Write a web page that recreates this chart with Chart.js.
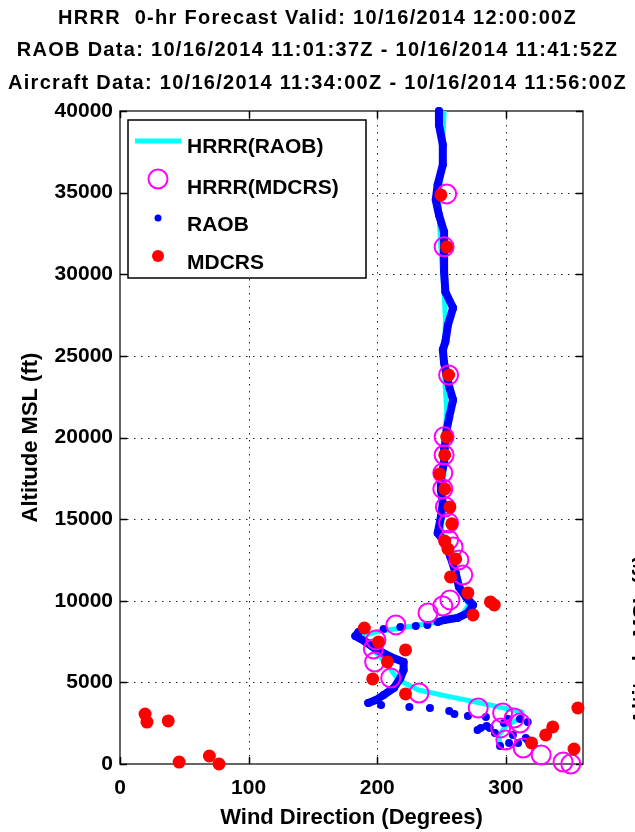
<!DOCTYPE html>
<html>
<head>
<meta charset="utf-8">
<script src="https://cdn.jsdelivr.net/npm/chart.js@4.4.0/dist/chart.umd.min.js"></script>
<style>
    html, body { margin: 0; padding: 0; background: #fff; }
    #wrap { width: 635px; height: 832px; position: relative; overflow: hidden; }
</style>
</head>
<body>
<div id="wrap"><canvas id="windChart" width="635" height="832"></canvas></div>
<script>
// Titles and axis text
const titleLines = [
    'HRRR  0-hr Forecast Valid: 10/16/2014 12:00:00Z',
    'RAOB Data: 10/16/2014 11:01:37Z - 10/16/2014 11:41:52Z',
    'Aircraft Data: 10/16/2014 11:34:00Z - 10/16/2014 11:56:00Z'
];
const xTitle = 'Wind Direction (Degrees)';
const yTitle = 'Altitude MSL (ft)';
const legendLabels = ['HRRR(RAOB)', 'HRRR(MDCRS)', 'RAOB', 'MDCRS'];

const xTicks = [0, 100, 200, 300];
const yTicks = [0, 5000, 10000, 15000, 20000, 25000, 30000, 35000, 40000];

// HRRR interpolated to the RAOB profile
const hrrrRaobDir = [252, 251, 250, 248, 248.5, 250, 252, 253, 252.5, 252.5, 254, 252.5, 252, 251, 250, 254, 259, 263.5, 267.5, 271, 266.5, 255, 237.5, 218, 199, 188.5, 193, 201, 209, 216.5, 232, 257, 280.5, 312, 312.5, 300, 294, 296];
const hrrrRaobAlt = [40000, 38230, 36390, 34560, 33020, 30880, 29040, 27200, 25370, 23530, 21690, 19850, 18010, 16180, 14340, 13110, 12190, 11270, 10360, 9740, 9190, 8820, 8580, 8330, 8090, 7840, 7290, 6680, 5940, 5150, 4530, 4110, 3740, 3190, 2880, 2330, 1720, 1160];

// RAOB observations (upper profile, sparse middle, lower profile, scattered low levels)
const raobUpperDir = [248, 248, 251, 251, 247, 245.5, 248, 252, 252, 252, 253, 259, 255, 253, 251, 252, 256, 259, 256, 254, 252.5, 252, 249.5, 249.5, 251, 249.5, 247, 253, 257, 261, 263.5, 269, 274.5, 270.5, 262.5, 252, 247];
const raobUpperAlt = [40000, 39150, 37930, 36700, 35480, 34560, 33640, 32600, 31370, 30150, 28920, 27940, 26900, 25860, 25370, 24570, 23100, 22300, 21260, 20460, 19420, 18440, 17580, 16790, 15990, 15130, 14150, 13540, 12680, 11700, 10850, 10230, 9740, 9250, 8950, 8820, 8700];
const raobMidDir = [239, 230, 218, 205];
const raobMidAlt = [8520, 8460, 8390, 8270];
const raobLowerDir = [185.5, 183, 191, 200, 210.5, 220.5, 220.5, 218, 213, 205, 199, 193];
const raobLowerAlt = [8090, 7840, 7480, 6990, 6560, 6250, 5760, 5270, 4660, 4230, 3920, 3740];
const raobLowDir = [203, 225, 241, 256, 260, 270.5, 284.5, 278, 285, 291.5, 298.5, 301.5, 311, 317, 305.5, 302.5, 295.5, 309.5, 315.5, 280.5, 287.5, 317];
const raobLowAlt = [3620, 3490, 3430, 3250, 3060, 2940, 2880, 2080, 2330, 1900, 2510, 2760, 2760, 2570, 1780, 1290, 1100, 1290, 1590, 2210, 2210, 1470];

// HRRR interpolated to the aircraft reports
const hrrrMdcrsDir = [254, 252, 255.5, 252, 252, 251, 251, 253, 255.5, 255.5, 259, 263.5, 266.5, 256.5, 251, 239.5, 214.5, 199, 197, 198, 210.5, 232.5, 278.5, 297.5, 306.5, 311, 296, 300, 313.5, 327.5, 344.5, 350.5];
const hrrrMdcrsAlt = [34920, 31680, 23830, 20040, 18930, 17830, 16850, 15750, 14770, 13720, 13300, 12500, 11580, 10050, 9680, 9250, 8520, 7600, 7050, 6250, 5270, 4350, 3430, 3130, 2820, 2510, 2210, 1470, 980, 550, 120, 0];

// Aircraft (MDCRS) reports
const mdcrsDir = [249.5, 254, 255.5, 254, 252.5, 248.5, 252.5, 256.5, 258, 252.5, 255, 261, 257, 270.5, 288, 291, 274.5, 190, 201, 222, 208, 196.5, 222, 356, 336.5, 331, 320, 353, 19.5, 21, 37.5, 46, 69.5, 77];
const mdcrsAlt = [34860, 31680, 23830, 20040, 18930, 17770, 16850, 15750, 14710, 13660, 13170, 12560, 11460, 10480, 9930, 9740, 9130, 8330, 7480, 6990, 6250, 5210, 4290, 3430, 2270, 1780, 1290, 920, 3060, 2570, 2640, 120, 490, 0];

const CYAN = '#00ffff', MAGENTA = '#ff00ff', BLUE = '#0000ff', RED = '#ff0000';
const FONT = "'Liberation Sans', Arial, sans-serif";

function pts(dirs, alts) {
    return dirs.map((d, i) => ({ x: d, y: alts[i] }));
}

function raobLine(dirs, alts) {
    return {
        label: 'RAOB',
        data: pts(dirs, alts),
        showLine: true,
        borderColor: BLUE,
        borderWidth: 8,
        borderJoinStyle: 'round',
        borderCapStyle: 'round',
        pointRadius: 4,
        pointBackgroundColor: BLUE,
        pointBorderWidth: 0,
        clip: false,
        order: 3
    };
}

function raobDots(dirs, alts) {
    return {
        label: 'RAOB',
        data: pts(dirs, alts),
        showLine: false,
        pointRadius: 4,
        pointBackgroundColor: BLUE,
        pointBorderWidth: 0,
        clip: false,
        order: 3
    };
}

// Grid, box, inward ticks, legend and text
const frame = {
    id: 'frame',
    beforeDatasetsDraw(chart) {
        const { ctx, chartArea: a, scales: { x, y } } = chart;
        ctx.save();
        ctx.strokeStyle = '#222';
        ctx.lineWidth = 1;
        ctx.setLineDash([1.5, 5.5]);
        xTicks.forEach(v => {
            if (v <= 0) return;
            const px = Math.round(x.getPixelForValue(v)) + 0.5;
            ctx.beginPath(); ctx.moveTo(px, a.top); ctx.lineTo(px, a.bottom); ctx.stroke();
        });
        yTicks.forEach(v => {
            if (v <= 0 || v >= 40000) return;
            const py = Math.round(y.getPixelForValue(v)) + 0.5;
            ctx.beginPath(); ctx.moveTo(a.left, py); ctx.lineTo(a.right, py); ctx.stroke();
        });
        ctx.setLineDash([]);

        ctx.strokeStyle = '#333';
        ctx.lineWidth = 1.5;
        ctx.strokeRect(a.left, a.top, a.right - a.left, a.bottom - a.top);

        // MATLAB style ticks pointing inwards on all four sides
        ctx.strokeStyle = '#000';
        const tl = 7;
        xTicks.forEach(v => {
            const px = Math.round(x.getPixelForValue(v)) + 0.5;
            ctx.beginPath();
            ctx.moveTo(px, a.bottom); ctx.lineTo(px, a.bottom - tl);
            ctx.moveTo(px, a.top); ctx.lineTo(px, a.top + tl);
            ctx.stroke();
        });
        yTicks.forEach(v => {
            const py = Math.round(y.getPixelForValue(v)) + 0.5;
            ctx.beginPath();
            ctx.moveTo(a.left, py); ctx.lineTo(a.left + tl, py);
            ctx.moveTo(a.right, py); ctx.lineTo(a.right - tl, py);
            ctx.stroke();
        });
        ctx.restore();
    },
    afterDraw(chart) {
        const { ctx, chartArea: a } = chart;
        ctx.save();

        // Titles
        ctx.fillStyle = '#000';
        ctx.textAlign = 'center';
        ctx.textBaseline = 'middle';
        ctx.font = `bold 20px ${FONT}`;
        ctx.letterSpacing = '1.3px';
        [18, 50, 83].forEach((ty, i) => ctx.fillText(titleLines[i], 317.5, ty));
        ctx.letterSpacing = '0px';

        // Axis titles
        ctx.font = `bold 22px ${FONT}`;
        ctx.fillText(xTitle, (a.left + a.right) / 2, 818);
        ctx.save();
        ctx.translate(31, (a.top + a.bottom) / 2);
        ctx.rotate(-Math.PI / 2);
        ctx.fillText(yTitle, 0, 0);
        ctx.restore();
        // label of the neighbouring panel, cut by the figure edge
        ctx.save();
        ctx.translate(642, 640);
        ctx.rotate(-Math.PI / 2);
        ctx.fillText(yTitle, 0, 0);
        ctx.restore();

        // Legend
        const lx = 128, ly = 120, lw = 238, lh = 158;
        ctx.fillStyle = '#fff';
        ctx.fillRect(lx, ly, lw, lh);
        ctx.strokeStyle = '#000';
        ctx.lineWidth = 1.5;
        ctx.strokeRect(lx, ly, lw, lh);

        const symX = 158;
        const symY = [141, 179, 218, 256];
        const textY = [153, 194, 231, 269];

        ctx.strokeStyle = CYAN;
        ctx.lineWidth = 5;
        ctx.beginPath(); ctx.moveTo(135, symY[0]); ctx.lineTo(181, symY[0]); ctx.stroke();

        ctx.strokeStyle = MAGENTA;
        ctx.lineWidth = 2;
        ctx.beginPath(); ctx.arc(symX, symY[1], 9.5, 0, Math.PI * 2); ctx.stroke();

        ctx.fillStyle = BLUE;
        ctx.beginPath(); ctx.arc(symX, symY[2], 3.5, 0, Math.PI * 2); ctx.fill();

        ctx.fillStyle = RED;
        ctx.beginPath(); ctx.arc(symX, symY[3], 6, 0, Math.PI * 2); ctx.fill();

        ctx.fillStyle = '#000';
        ctx.textAlign = 'left';
        ctx.textBaseline = 'alphabetic';
        ctx.font = `bold 21px ${FONT}`;
        legendLabels.forEach((t, i) => ctx.fillText(t, 187, textY[i]));

        ctx.restore();
    }
};

const ctx = document.getElementById('windChart').getContext('2d');
const chart = new Chart(ctx, {
    type: 'scatter',
    data: {
        datasets: [
            {
                label: 'MDCRS',
                data: pts(mdcrsDir, mdcrsAlt),
                pointRadius: 6.5,
                pointBackgroundColor: RED,
                pointBorderWidth: 0,
                clip: false,
                order: 1
            },
            {
                label: 'HRRR(MDCRS)',
                data: pts(hrrrMdcrsDir, hrrrMdcrsAlt),
                pointRadius: 9.5,
                pointBackgroundColor: 'rgba(0,0,0,0)',
                pointBorderColor: MAGENTA,
                pointBorderWidth: 2,
                clip: false,
                order: 2
            },
            raobLine(raobUpperDir, raobUpperAlt),
            raobLine(raobLowerDir, raobLowerAlt),
            raobDots(raobMidDir, raobMidAlt),
            raobDots(raobLowDir, raobLowAlt),
            {
                label: 'HRRR(RAOB)',
                data: pts(hrrrRaobDir, hrrrRaobAlt),
                showLine: true,
                borderColor: CYAN,
                borderWidth: 5,
                borderJoinStyle: 'round',
                pointRadius: 0,
                clip: false,
                order: 4
            }
        ]
    },
    options: {
        responsive: false,
        animation: false,
        devicePixelRatio: 1,
        layout: { padding: { top: 111, right: 52, left: 0, bottom: 0 } },
        plugins: {
            legend: { display: false },
            tooltip: { enabled: false },
            title: { display: false }
        },
        scales: {
            x: {
                type: 'linear',
                min: 0,
                max: 360,
                grid: { display: false, drawTicks: false },
                border: { display: false },
                ticks: {
                    stepSize: 100,
                    padding: 12,
                    color: '#000',
                    font: { family: FONT, size: 21, weight: 'bold' },
                    callback: v => String(v)
                },
                afterBuildTicks: s => { s.ticks = xTicks.map(v => ({ value: v })); },
                afterFit: s => { s.height = 68; }
            },
            y: {
                type: 'linear',
                min: 0,
                max: 40000,
                grid: { display: false, drawTicks: false },
                border: { display: false },
                ticks: {
                    stepSize: 5000,
                    padding: 7,
                    color: '#000',
                    font: { family: FONT, size: 21, weight: 'bold' },
                    callback: v => String(v)
                },
                afterBuildTicks: s => { s.ticks = yTicks.map(v => ({ value: v })); },
                afterFit: s => { s.width = 120; }
            }
        }
    },
    plugins: [frame]
});
</script>
</body>
</html>
